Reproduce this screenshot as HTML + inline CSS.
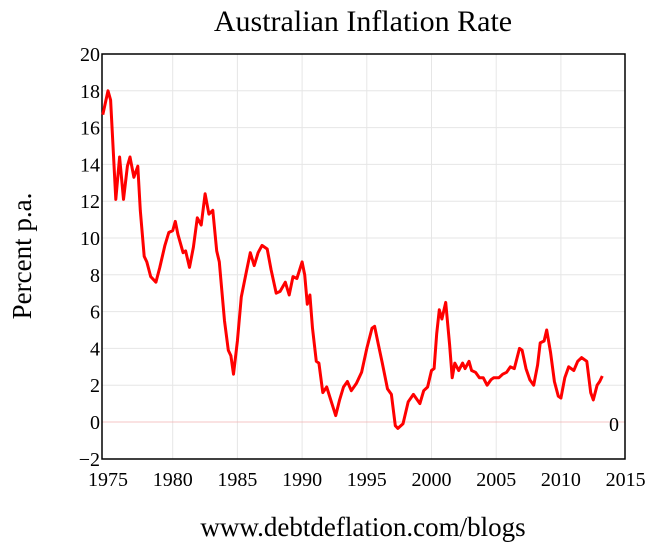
<!DOCTYPE html>
<html><head><meta charset="utf-8"><style>
html,body{margin:0;padding:0;background:#fff;}
svg{display:block;font-family:"Liberation Serif",serif;}
</style></head><body>
<svg id="s" width="657" height="546" viewBox="0 0 657 546" xmlns="http://www.w3.org/2000/svg">
<rect width="657" height="546" fill="#fff"/>
<g id="grid" stroke="#e6e6e6" stroke-width="1"></g>
<line x1="102" y1="422" x2="625" y2="422" stroke="#f3b0b0" stroke-width="0.8"/>
<rect x="102" y="54" width="523" height="405" fill="none" stroke="#000" stroke-width="1.5"/>
<g id="yt" font-size="20" text-anchor="end"></g>
<g id="xt" font-size="20" text-anchor="middle"></g>
<text x="363" y="31" font-size="30" text-anchor="middle">Australian Inflation Rate</text>
<text transform="translate(31,256) rotate(-90)" font-size="27" text-anchor="middle">Percent p.a.</text>
<text x="363" y="536" font-size="27" text-anchor="middle">www.debtdeflation.com/blogs</text>
<text x="609" y="431" font-size="20">0</text>
<polyline id="ln" fill="none" stroke="#ff0000" stroke-width="3" stroke-linejoin="round"/>
</svg>
<script>
var X=function(y){return 108+(y-1975)*12.94;},Y=function(v){return 422-v*18.4;};
var ns="http://www.w3.org/2000/svg",g=document.getElementById('grid'),yt=document.getElementById('yt'),xt=document.getElementById('xt');
for(var v=-2;v<=20;v+=2){var l=document.createElementNS(ns,'line');l.setAttribute('x1',102);l.setAttribute('x2',625);l.setAttribute('y1',Y(v));l.setAttribute('y2',Y(v));if(v>-2&&v<20&&v!=0)g.appendChild(l);
var t=document.createElementNS(ns,'text');t.setAttribute('x',100);t.setAttribute('y',Y(v)+7);t.textContent=(v<0?'\u2212'+(-v):v);yt.appendChild(t);}
for(var y=1975;y<=2015;y+=5){if(y>1975&&y<2015){var l=document.createElementNS(ns,'line');l.setAttribute('y1',54);l.setAttribute('y2',459);l.setAttribute('x1',X(y));l.setAttribute('x2',X(y));g.appendChild(l);}
var t=document.createElementNS(ns,'text');t.setAttribute('x',X(y));t.setAttribute('y',486);t.textContent=y;xt.appendChild(t);}
var d=[1974.6,16.7,1975.0,18.0,1975.2,17.5,1975.6,12.1,1975.9,14.4,1976.2,12.1,1976.5,13.9,1976.7,14.4,1977.0,13.3,1977.3,13.9,1977.5,11.5,1977.8,9,1978,8.7,1978.3,7.9,1978.7,7.6,1979,8.4,1979.4,9.6,1979.7,10.3,1980,10.4,1980.2,10.9,1980.4,10.2,1980.8,9.2,1981,9.3,1981.3,8.4,1981.6,9.5,1981.9,11.1,1982.2,10.7,1982.5,12.4,1982.8,11.3,1983.1,11.5,1983.4,9.3,1983.6,8.7,1984,5.5,1984.3,3.9,1984.5,3.6,1984.7,2.6,1985,4.4,1985.3,6.8,1985.7,8.2,1986,9.2,1986.3,8.5,1986.6,9.2,1986.9,9.6,1987.3,9.4,1987.6,8.3,1988,7,1988.3,7.1,1988.7,7.6,1989,6.9,1989.3,7.9,1989.6,7.8,1990,8.7,1990.2,8.0,1990.4,6.4,1990.6,6.9,1990.8,5.1,1991.1,3.3,1991.3,3.2,1991.6,1.6,1991.9,1.9,1992.3,1.0,1992.6,0.35,1992.9,1.2,1993.2,1.9,1993.5,2.2,1993.8,1.7,1994.2,2.1,1994.6,2.7,1995,4,1995.4,5.1,1995.6,5.2,1995.9,4.2,1996.2,3.2,1996.6,1.8,1996.9,1.5,1997.2,-0.2,1997.4,-0.35,1997.8,-0.1,1998.2,1.1,1998.6,1.5,1999.1,1.0,1999.4,1.7,1999.7,1.9,2000,2.8,2000.2,2.9,2000.4,4.8,2000.6,6.1,2000.8,5.6,2001.1,6.5,2001.4,4.2,2001.6,2.4,2001.8,3.2,2002.1,2.8,2002.4,3.2,2002.6,2.9,2002.9,3.3,2003.1,2.8,2003.4,2.7,2003.7,2.4,2004,2.4,2004.3,2.0,2004.6,2.3,2004.8,2.4,2005.2,2.4,2005.5,2.6,2005.8,2.7,2006.1,3.0,2006.4,2.9,2006.8,4.0,2007.0,3.9,2007.3,2.9,2007.6,2.3,2007.9,2.0,2008.2,3.1,2008.4,4.3,2008.7,4.4,2008.9,5.0,2009.2,3.8,2009.5,2.2,2009.8,1.4,2010.0,1.3,2010.3,2.4,2010.6,3.0,2011.0,2.8,2011.3,3.3,2011.6,3.5,2012.0,3.3,2012.3,1.6,2012.5,1.2,2012.8,2.0,2013.0,2.2,2013.2,2.5];
var p=[];for(var i=0;i<d.length;i+=2)p.push(X(d[i]).toFixed(1)+','+Y(d[i+1]).toFixed(1));
document.getElementById('ln').setAttribute('points',p.join(' '));
</script>
</body></html>
